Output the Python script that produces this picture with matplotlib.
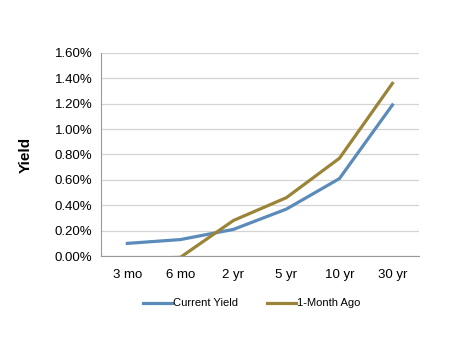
import matplotlib
matplotlib.use('Agg')
from matplotlib import pyplot as plt
from matplotlib.ticker import FuncFormatter

plt.rcParams['font.family'] = ['Liberation Sans', 'DejaVu Sans']

maturities = ['3 mo', '6 mo', '2 yr', '5 yr', '10 yr', '30 yr']
current_yield = [0.10, 0.13, 0.21, 0.37, 0.61, 1.19]
month_ago = [-0.02, -0.01, 0.28, 0.46, 0.77, 1.36]  # short end below the axis, clipped

fig = plt.figure(figsize=(4.5, 3.41), dpi=100)
ax = fig.add_axes([0.224, 0.249, 0.707, 0.596])

x = range(len(maturities))
ax.plot(x, current_yield, color='#5b8bba', lw=2.3, label='Current Yield')
ax.plot(x, month_ago, color='#9a8438', lw=2.3, label='1-Month Ago')

ax.set_ylim(0, 1.6)
ax.set_xlim(-0.5, len(maturities) - 0.5)
ax.set_yticks([i * 0.2 for i in range(9)])
ax.yaxis.set_major_formatter(FuncFormatter(lambda v, p: f'{v:.2f}%'))
ax.set_xticks(list(x))
ax.set_xticklabels(maturities)
ax.tick_params(axis='both', length=0, labelsize=9.5, pad=6)
ax.tick_params(axis='x', pad=9)
ax.grid(axis='y', color='#d4d4d4', lw=0.9)
ax.set_axisbelow(True)
for s in ['top', 'right']:
    ax.spines[s].set_visible(False)
for s in ['left', 'bottom']:
    ax.spines[s].set_color('#999999')
ax.set_ylabel('Yield', fontsize=11, fontweight='bold', labelpad=16)

fig.legend(loc='center', bbox_to_anchor=(0.56, 0.11), ncol=2, frameon=False,
           fontsize=8, handlelength=2.6, columnspacing=2.6, handletextpad=0.1)

fig.savefig('out.png', dpi=100)
